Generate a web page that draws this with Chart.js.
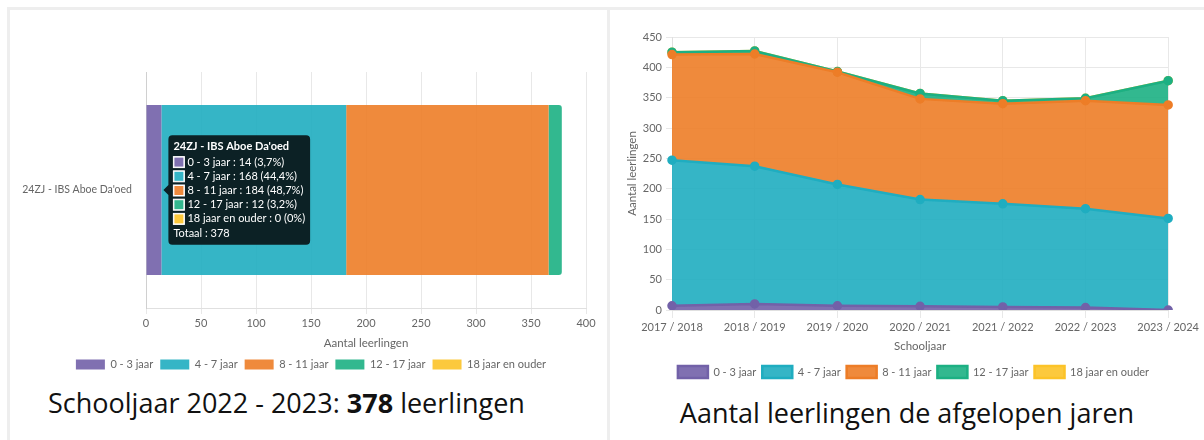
<!DOCTYPE html>
<html>
<head>
<meta charset="utf-8">
<script src="https://cdn.jsdelivr.net/npm/chart.js@4.4.0/dist/chart.umd.min.js"></script>
<style>
    body { margin: 0; background: #fff; width: 1204px; height: 440px; overflow: hidden; position: relative; font-family: "Open Sans", sans-serif; }
    .line-top { position: absolute; left: 7px; top: 7px; width: 1197px; height: 3px; background: #eeeeee; }
    .line-left { position: absolute; left: 7px; top: 7px; width: 3px; height: 433px; background: #eeeeee; }
    .line-mid { position: absolute; left: 607px; top: 7px; width: 3px; height: 433px; background: #eeeeee; }
    #leftBox { position: absolute; left: 10px; top: 10px; width: 596px; height: 370px; }
    #rightBox { position: absolute; left: 612px; top: 10px; width: 590px; height: 378px; }
    .caption { position: absolute; font-size: 27px; color: #111; white-space: nowrap; line-height: 36px; }
</style>
</head>
<body>
<div class="line-top"></div>
<div class="line-left"></div>
<div class="line-mid"></div>
<div id="leftBox"><canvas id="currentChart"></canvas></div>
<div id="rightBox"><canvas id="historyChart"></canvas></div>
<div class="caption" style="left:48px; top:385px;">Schooljaar 2022 - 2023: <b>378</b> leerlingen</div>
<div class="caption" style="left:907px; top:395px; transform:translateX(-50%);">Aantal leerlingen de afgelopen jaren</div>

<script>
// --- data ---
const schoolNames = ["24ZJ - IBS Aboe Da'oed"];
const ageGroups = ["0 - 3 jaar", "4 - 7 jaar", "8 - 11 jaar", "12 - 17 jaar", "18 jaar en ouder"];
const currentCounts = [14, 168, 184, 12, 0];

const schoolYears = ["2017 / 2018", "2018 / 2019", "2019 / 2020", "2020 / 2021", "2021 / 2022", "2022 / 2023", "2023 / 2024"];
const count0to3 = [7, 10, 7, 6, 5, 4, 0];
const count4to7 = [240, 227, 200, 176, 170, 163, 151];
const count8to11 = [174, 185, 185, 166, 165, 178, 187];
const count12to17 = [4, 5, 1, 9, 5, 4, 40];
const count18plus = [0, 0, 0, 0, 0, 0, 0];

// colours: fill (slightly see-through) and solid line colour
const fills = ["rgba(114,97,168,0.9)", "rgba(31,173,192,0.9)", "rgba(237,125,39,0.9)", "rgba(28,176,131,0.9)", "rgba(252,195,40,0.9)"];
const solids = ["#7261a8", "#1fadc0", "#ed7d27", "#1cb083", "#fcc328"];
const shown = ["#8071b1", "#35b5c6", "#ef8a3d", "#33b88f", "#fcc93d"];

Chart.defaults.font.family = "Lato, 'Open Sans', sans-serif";
Chart.defaults.font.size = 11;
Chart.defaults.color = "#666";
Chart.defaults.animation = false;

const total = currentCounts.reduce((a, b) => a + b, 0);
function pct(v) {
    return String(Number((v / total * 100).toFixed(1))).replace(".", ",");
}

// legend sits a bit right of centre in the original
const nudgeLegend = {
    id: "nudgeLegend",
    afterLayout(chart) { chart.legend.left += 26; }
};

// --- left: horizontal stacked bar ---
const currentChart = new Chart(document.getElementById("currentChart"), {
    type: "bar",
    data: {
        labels: schoolNames,
        datasets: ageGroups.map((g, i) => ({
            label: g,
            data: [currentCounts[i]],
            backgroundColor: fills[i],
            borderWidth: 0,
            borderRadius: i === 3 ? 3 : 0,
            borderSkipped: "start"
        }))
    },
    options: {
        indexAxis: "y",
        responsive: true,
        maintainAspectRatio: false,
        layout: { padding: { top: 62, right: 20 } },
        scales: {
            x: {
                stacked: true, min: 0, max: 400,
                ticks: { stepSize: 50, padding: 3 },
                grid: { color: "#e8e8e8", tickLength: 6 },
                border: { color: "#e0e0e0" },
                title: { display: true, text: "Aantal leerlingen", font: { size: 11.5 }, padding: { top: 2, bottom: 2 } },
                afterFit: s => { s.height = 44; }
            },
            y: {
                stacked: true,
                grid: { display: false },
                border: { display: true, color: "#d0d0d0" },
                ticks: { padding: 6, font: { size: 10.5 } },
                afterFit: s => { s.width = 136; }
            }
        },
        plugins: {
            legend: {
                position: "bottom",
                labels: { boxWidth: 29, boxHeight: 10, padding: 7 }
            },
            tooltip: {
                mode: "index",
                position: "nearest",
                xAlign: "left",
                yAlign: "center",
                backgroundColor: "#0c2125",
                titleFont: { weight: "bold", size: 11 },
                bodyFont: { size: 11 },
                footerFont: { weight: "normal", size: 11 },
                titleMarginBottom: 2,
                bodySpacing: 1,
                footerMarginTop: 1,
                padding: { top: 5, bottom: 5, left: 5, right: 5 },
                cornerRadius: 4,
                boxWidth: 11,
                boxHeight: 11,
                boxPadding: 1,
                caretSize: 5,
                callbacks: {
                    label: ctx => ctx.dataset.label + " : " + ctx.raw + " (" + pct(ctx.raw) + "%)",
                    labelColor: ctx => ({ borderColor: "#fff", backgroundColor: shown[ctx.datasetIndex], borderWidth: 1 }),
                    footer: () => "Totaal : " + total
                }
            }
        }
    },
    plugins: [nudgeLegend]
});

// show the tooltip like in the screenshot
const el0 = currentChart.getDatasetMeta(0).data[0];
currentChart.tooltip.setActiveElements(
    ageGroups.map((g, i) => ({ datasetIndex: i, index: 0 })),
    { x: el0.x, y: el0.y }
);
currentChart.update("none");

// --- right: stacked area over the years ---
const series = [count0to3, count4to7, count8to11, count12to17, count18plus];
new Chart(document.getElementById("historyChart"), {
    type: "line",
    data: {
        labels: schoolYears,
        datasets: ageGroups.map((g, i) => ({
            label: g,
            data: series[i],
            backgroundColor: fills[i],
            borderColor: solids[i],
            borderWidth: 2.5,
            pointRadius: 3.5,
            pointBackgroundColor: solids[i],
            pointBorderColor: solids[i],
            fill: i === 0 ? "origin" : "-1",
            tension: 0
        }))
    },
    options: {
        responsive: true,
        maintainAspectRatio: false,
        layout: { padding: { top: 27, left: 13 } },
        scales: {
            x: {
                grid: { color: "#e8e8e8" },
                border: { color: "#e0e0e0" },
                ticks: { padding: 3, maxRotation: 0 },
                title: { display: true, text: "Schooljaar", font: { size: 11.5 }, padding: { top: 2, bottom: 7 } },
                afterFit: s => { s.height = 50; }
            },
            y: {
                stacked: true, min: 0, max: 450,
                ticks: { stepSize: 50, padding: 4 },
                grid: { color: "#e8e8e8", tickLength: 6 },
                border: { color: "#e0e0e0" },
                title: { display: true, text: "Aantal leerlingen", font: { size: 11.5 }, padding: { top: 0, bottom: 2 } },
                afterFit: s => { s.width = 47; }
            }
        },
        plugins: {
            legend: {
                position: "bottom",
                labels: { boxWidth: 30, boxHeight: 12, padding: 6 }
            },
            tooltip: { enabled: false }
        }
    }
});
</script>
</body>
</html>
